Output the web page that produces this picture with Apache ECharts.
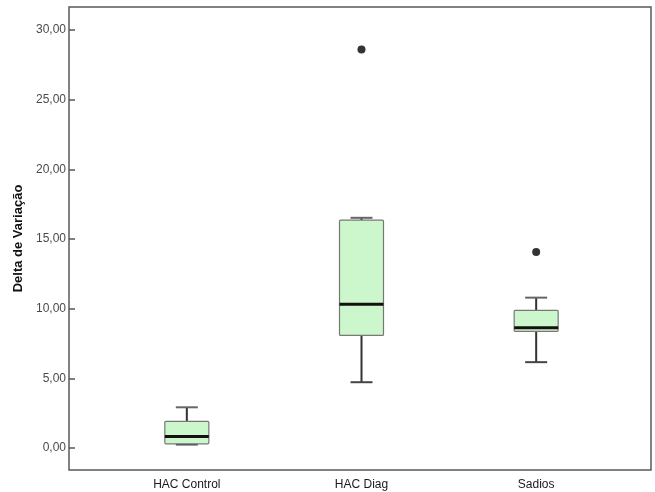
<!DOCTYPE html>
<html>
<head>
<meta charset="utf-8">
<script src="https://cdn.jsdelivr.net/npm/echarts@6/dist/echarts.min.js"></script>
<style>html,body{margin:0;padding:0;background:#fff;}#c{width:655px;height:492px;}</style>
</head>
<body>
<div id="c"></div>
<script>
var categories = ['HAC Control', 'HAC Diag', 'Sadios'];
var lowWhisker = [0.25, 4.72, 6.16];
var q1 = [0.30, 8.08, 8.37];
var median = [0.83, 10.31, 8.63];
var q3 = [1.91, 16.35, 9.88];
var highWhisker = [2.92, 16.52, 10.79];
var outliers = [[1, 28.6], [2, 14.07]];
var yTicks = [0, 5, 10, 15, 20, 25, 30];
var yMin = -1.58, yMax = 31.65;

var boxData = categories.map(function (c, i) {
  return [i, lowWhisker[i], q1[i], median[i], q3[i], highWhisker[i]];
});

var chart = echarts.init(document.getElementById('c'), null, {renderer: 'canvas'});
var font = 'Liberation Sans, Arial, sans-serif';
var BOXW = 44, CAPW = 22;

function renderBox(params, api) {
  var x = api.value(0);
  var pLow = api.coord([x, api.value(1)]);
  var pQ1 = api.coord([x, api.value(2)]);
  var pMed = api.coord([x, api.value(3)]);
  var pQ3 = api.coord([x, api.value(4)]);
  var pHigh = api.coord([x, api.value(5)]);
  var cx = pMed[0];
  return {
    type: 'group',
    children: [
      {type: 'line', shape: {x1: cx, y1: pHigh[1], x2: cx, y2: pQ3[1]}, style: {stroke: '#333', lineWidth: 2}},
      {type: 'line', shape: {x1: cx, y1: pQ1[1], x2: cx, y2: pLow[1]}, style: {stroke: '#333', lineWidth: 2}},
      {type: 'line', shape: {x1: cx - CAPW / 2, y1: pHigh[1], x2: cx + CAPW / 2, y2: pHigh[1]}, style: {stroke: '#666', lineWidth: 2}},
      {type: 'line', shape: {x1: cx - CAPW / 2, y1: pLow[1], x2: cx + CAPW / 2, y2: pLow[1]}, style: {stroke: '#444', lineWidth: 2}},
      {type: 'rect', shape: {x: cx - BOXW / 2, y: pQ3[1], width: BOXW, height: pQ1[1] - pQ3[1], r: 1},
        style: {fill: '#ccf7cc', stroke: '#777', lineWidth: 1.2}},
      {type: 'line', shape: {x1: cx - BOXW / 2, y1: pMed[1], x2: cx + BOXW / 2, y2: pMed[1]}, style: {stroke: '#111', lineWidth: 3}}
    ]
  };
}

chart.setOption({
  animation: false,
  backgroundColor: '#fff',
  grid: [
    {left: 69, top: 7, right: 4, bottom: 22, show: true, borderColor: '#5a5a5a', borderWidth: 1.5, backgroundColor: 'transparent'},
    {left: 99.5, top: 7, right: 31.5, bottom: 22, show: false}
  ],
  xAxis: [
    {gridIndex: 0, type: 'value', min: 0, max: 1, show: false},
    {gridIndex: 1, type: 'category', data: categories,
      axisLine: {show: false}, axisTick: {show: false}, splitLine: {show: false},
      axisLabel: {margin: 9, color: '#1a1a1a', fontSize: 12, fontFamily: font}}
  ],
  yAxis: [
    {gridIndex: 0, type: 'value', min: yMin, max: yMax,
      name: 'Delta de Variação', nameLocation: 'middle', nameGap: 40,
      nameTextStyle: {fontWeight: 'bold', fontSize: 13, color: '#111', fontFamily: font},
      axisLine: {show: false}, splitLine: {show: false},
      axisTick: {show: true, inside: true, length: 6, lineStyle: {color: '#555', width: 1.5}, customValues: yTicks},
      axisLabel: {margin: 3, color: '#4a4a4a', fontSize: 12, fontFamily: font, customValues: yTicks,
        formatter: function (v) { return v.toFixed(2).replace('.', ','); }}},
    {gridIndex: 1, type: 'value', min: yMin, max: yMax, show: false, splitLine: {show: false}}
  ],
  series: [
    {type: 'custom', xAxisIndex: 1, yAxisIndex: 1, data: boxData, renderItem: renderBox,
      encode: {x: 0, y: [1, 2, 3, 4, 5]}},
    {type: 'scatter', xAxisIndex: 1, yAxisIndex: 1, data: outliers, symbol: 'circle', symbolSize: 8,
      itemStyle: {color: '#000'}}
  ]
});
</script>
</body>
</html>
